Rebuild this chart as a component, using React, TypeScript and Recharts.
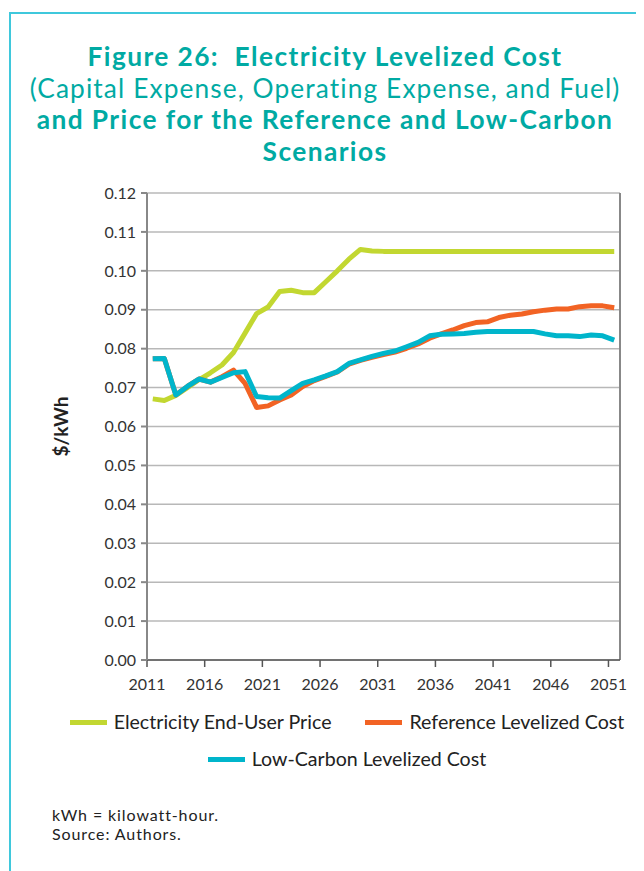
import React from 'react';
import { LineChart, Line, XAxis, YAxis, CartesianGrid, ReferenceLine } from 'recharts';

const YEARS = [
  2011, 2012, 2013, 2014, 2015, 2016, 2017, 2018, 2019, 2020,
  2021, 2022, 2023, 2024, 2025, 2026, 2027, 2028, 2029, 2030,
  2031, 2032, 2033, 2034, 2035, 2036, 2037, 2038, 2039, 2040,
  2041, 2042, 2043, 2044, 2045, 2046, 2047, 2048, 2049, 2050, 2051,
];

const END_USER_PRICE = [
  0.0671, 0.0667, 0.0680, 0.0700, 0.0720, 0.0738, 0.0758, 0.0790, 0.0840, 0.0890,
  0.0907, 0.0947, 0.0950, 0.0944, 0.0944, 0.0972, 0.1000, 0.1030, 0.1055, 0.1051,
  0.1050, 0.1050, 0.1050, 0.1050, 0.1050, 0.1050, 0.1050, 0.1050, 0.1050, 0.1050,
  0.1050, 0.1050, 0.1050, 0.1050, 0.1050, 0.1050, 0.1050, 0.1050, 0.1050, 0.1050, 0.1050,
];

const REFERENCE_COST = [
  0.0774, 0.0775, 0.0681, 0.0703, 0.0722, 0.0714, 0.0728, 0.0745, 0.0711, 0.0649,
  0.0653, 0.0668, 0.0681, 0.0703, 0.0718, 0.0729, 0.0740, 0.0760, 0.0770, 0.0778,
  0.0785, 0.0791, 0.0801, 0.0812, 0.0827, 0.0838, 0.0848, 0.0859, 0.0867, 0.0869,
  0.0880, 0.0886, 0.0889, 0.0895, 0.0899, 0.0902, 0.0902, 0.0908, 0.0910, 0.0910, 0.0905,
];

const LOW_CARBON_COST = [
  0.0774, 0.0775, 0.0681, 0.0703, 0.0722, 0.0714, 0.0726, 0.0738, 0.0741, 0.0677,
  0.0674, 0.0673, 0.0692, 0.0711, 0.0720, 0.0730, 0.0741, 0.0762, 0.0771, 0.0780,
  0.0788, 0.0794, 0.0805, 0.0816, 0.0833, 0.0837, 0.0838, 0.0839, 0.0842, 0.0844,
  0.0844, 0.0844, 0.0844, 0.0844, 0.0838, 0.0833, 0.0833, 0.0831, 0.0835, 0.0833, 0.0822,
];

const X_LABELS = [2011, 2016, 2021, 2026, 2031, 2036, 2041, 2046, 2051];
const Y_TICKS = [0, 0.01, 0.02, 0.03, 0.04, 0.05, 0.06, 0.07, 0.08, 0.09, 0.1, 0.11, 0.12];

const SERIES = [
  { key: 'price', name: 'Electricity End-User Price', color: '#c2d731' },
  { key: 'reference', name: 'Reference Levelized Cost', color: '#f26324' },
  { key: 'lowCarbon', name: 'Low-Carbon Levelized Cost', color: '#00b5cb' },
];

const data = YEARS.map((year, i) => ({
  year,
  price: END_USER_PRICE[i],
  reference: REFERENCE_COST[i],
  lowCarbon: LOW_CARBON_COST[i],
}));

// each year sits in the middle of its slot, the labelled ticks sit on the slot's left edge
const xTicks = X_LABELS.map((y) => y - 0.5);

const TEAL = '#00aaa3';
const FONT = 'Lato, "Open Sans", sans-serif';

const renderYLabel = (props: any) => {
  const vb = props.viewBox || {};
  const cx = vb.x + 40;
  const cy = vb.y + vb.height / 2;
  return (
    <text
      x={cx}
      y={cy}
      transform={`rotate(-90, ${cx}, ${cy})`}
      textAnchor="middle"
      dominantBaseline="central"
      fill="#222"
      fontSize={19}
      fontWeight={700}
      fontFamily={FONT}
    >
      $/kWh
    </text>
  );
};

export default function App() {
  return (
    <div style={{ position: 'relative', width: 636, height: 863, fontFamily: FONT }}>
      <div
        style={{
          position: 'absolute', left: 1, top: 4, right: 0, bottom: 0,
          borderTop: '2px solid #3fc8dc', borderLeft: '2px solid #3fc8dc',
        }}
      />

      <div
        style={{
          position: 'absolute', left: 0, top: 33, width: 634,
          textAlign: 'center', color: TEAL, fontSize: 26.3, lineHeight: '31.7px',
        }}
      >
        <div style={{ fontWeight: 700, letterSpacing: 1.4 }}>Figure 26:&nbsp; Electricity Levelized Cost</div>
        <div style={{ fontWeight: 400, letterSpacing: 1.1 }}>(Capital Expense, Operating Expense, and Fuel)</div>
        <div style={{ fontWeight: 700, letterSpacing: 1.4 }}>and Price for the Reference and Low-Carbon</div>
        <div style={{ fontWeight: 700, letterSpacing: 1.4 }}>Scenarios</div>
      </div>

      <div style={{ position: 'absolute', left: 12, top: 172 }}>
        <LineChart width={620} height={520} data={data} margin={{ top: 13, right: 20, bottom: 10, left: 0 }}>
          <CartesianGrid vertical={false} stroke="#b8b8b8" strokeWidth={1.5} />
          <XAxis
            dataKey="year"
            type="number"
            domain={[2010.5, 2051.5]}
            ticks={xTicks}
            tickFormatter={(v: number) => String(v + 0.5)}
            interval={0}
            height={30}
            stroke="#555"
            strokeWidth={1.5}
            tickSize={7}
            tickMargin={12}
            tick={{ fill: '#333', fontSize: 16, fontFamily: FONT }}
          />
          <YAxis
            domain={[0, 0.12]}
            ticks={Y_TICKS}
            interval={0}
            width={127}
            stroke="#888"
            strokeWidth={2}
            tickSize={6}
            tickMargin={5}
            tickFormatter={(v: number) => v.toFixed(2)}
            tick={{ fill: '#333', fontSize: 16, fontFamily: FONT }}
            label={{ content: renderYLabel }}
          />
          <ReferenceLine x={2051.5} stroke="#888" strokeWidth={2} />
          {SERIES.map((s) => (
            <Line
              key={s.key}
              dataKey={s.key}
              name={s.name}
              stroke={s.color}
              strokeWidth={5}
              dot={false}
              strokeLinejoin="round"
              isAnimationActive={false}
            />
          ))}
        </LineChart>
      </div>

      <div
        style={{
          position: 'absolute', left: 42, top: 701, width: 594,
          display: 'flex', flexWrap: 'wrap', justifyContent: 'center',
          columnGap: 34, rowGap: 11, fontSize: 19.6, color: '#222', lineHeight: '26px',
        }}
      >
        {SERIES.map((s) => (
          <div key={s.key} style={{ display: 'flex', alignItems: 'center', gap: 7 }}>
            <span style={{ width: 37, height: 5, background: s.color, display: 'inline-block' }} />
            <span>{s.name}</span>
          </div>
        ))}
      </div>

      <div style={{ position: 'absolute', left: 44, top: 797, fontSize: 16, lineHeight: '19px', letterSpacing: 0.9, color: '#222' }}>
        <div>kWh = kilowatt-hour.</div>
        <div>Source: Authors.</div>
      </div>
    </div>
  );
}
